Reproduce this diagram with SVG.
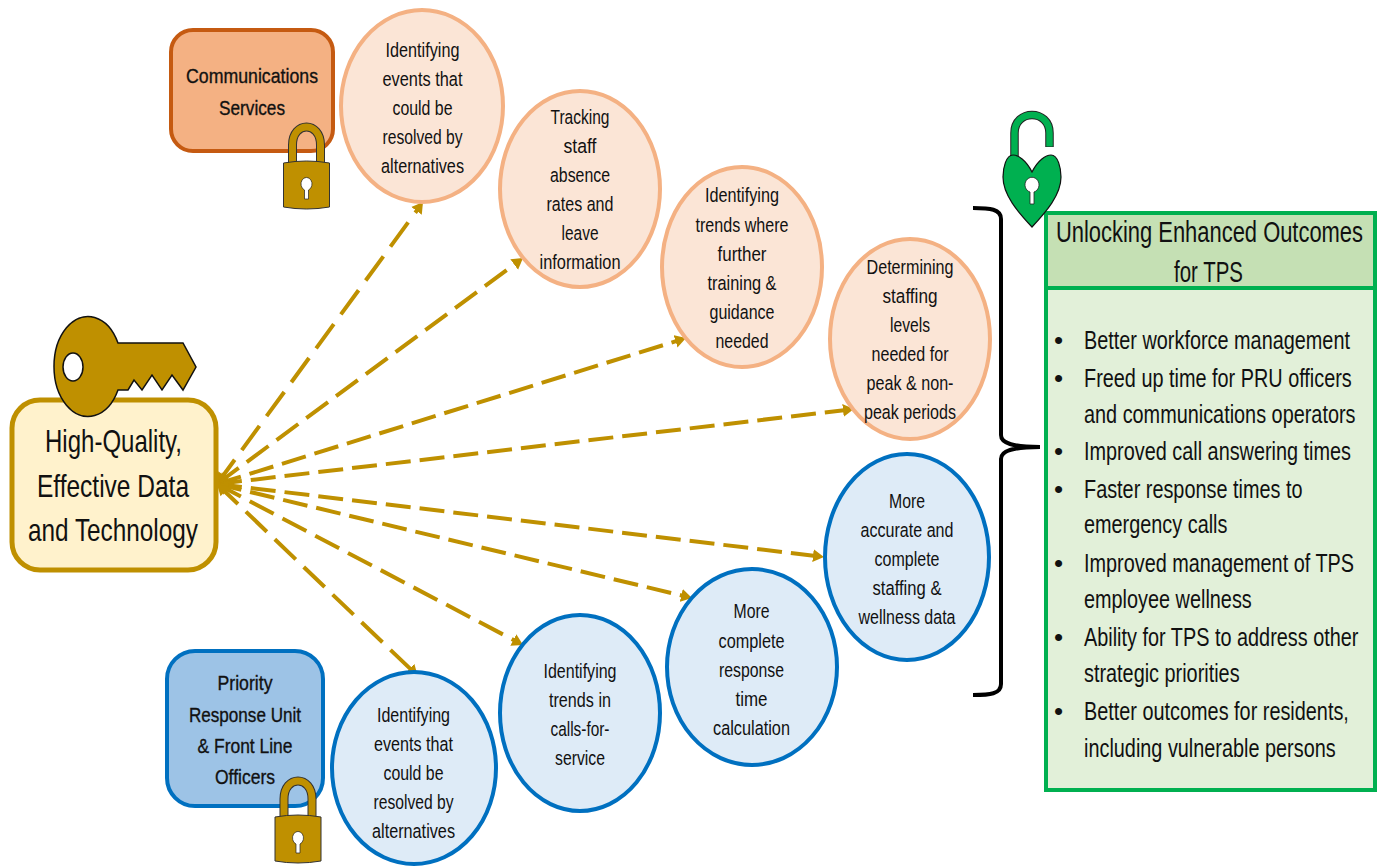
<svg xmlns="http://www.w3.org/2000/svg" width="1382" height="867" viewBox="0 0 1382 867">
<style>
text{font-family:"Liberation Sans",Arial,sans-serif;fill:#111;text-anchor:middle}
.c{font-size:20.5px}
.b{font-size:21px;stroke:#111;stroke-width:.35px}
.m{font-size:32px}
.h{font-size:30px}
.l{font-size:26px;text-anchor:start}
.o{fill:#FBE5D6;stroke:#F4B183;stroke-width:4}
.u{fill:#DEEBF7;stroke:#0070C0;stroke-width:4}
.a{fill:none;stroke:#BF9000;stroke-width:4;stroke-dasharray:25 9;marker-end:url(#ah);marker-start:url(#as)}
.d1{stroke-dasharray:30 12}
.d2{stroke-dasharray:27 10}
.d8{stroke-dasharray:29 11}
.g{fill:#BF9000;stroke:#111;stroke-width:1.5}
</style>
<defs>
<marker id="ah" markerUnits="userSpaceOnUse" markerWidth="13" markerHeight="14" refX="3" refY="7" orient="auto"><path d="M0 0.500L11 7L0 13.500z" fill="#BF9000"/></marker>
<marker id="as" markerUnits="userSpaceOnUse" markerWidth="13" markerHeight="14" refX="0" refY="7" orient="auto"><path d="M11 0.500L0 7L11 13.500z" fill="#BF9000"/></marker>
<g id="padlock"><path d="M-14 12V-12C-14-36 14-36 14-12V12" fill="none" stroke="#333" stroke-width="9"/><path d="M-14 12V-12C-14-36 14-36 14-12V12" fill="none" stroke="#BF9000" stroke-width="7"/><path d="M-23 6Q0 2 23 6V50Q0 54-23 50z" fill="#BF9000" stroke="#333" stroke-width="1"/><path d="M-2 33A5.500 6.500 0 1 1 2 33V42H-2z" fill="#fff" stroke="#222" stroke-width=".7"/></g>
</defs>
<g id="connectors">
<path class="a d1" d="M217 484L418.300 208.500"/>
<path class="a d2" d="M217 484L516.600 262.800"/>
<path class="a" d="M217 484L678.400 340.400"/>
<path class="a" d="M217 484L846 410"/>
<path class="a" d="M217 484L816 556"/>
<path class="a" d="M217 484L684.200 596.100"/>
<path class="a d2" d="M217 484L516 641.300"/>
<path class="a d8" d="M217 484L412 670.500"/>
</g>
<g id="bracket"><path d="M973 208C990 208 1001 209 1001 219V435C1001 443 1012 447 1040 447C1012 447 1001 451 1001 459V684C1001 694 990 695 973 695" fill="none" stroke="#000" stroke-width="4"/></g>
<g id="node-data"><rect x="12" y="400" width="204" height="170" rx="28" fill="#FFF2CC" stroke="#BF9000" stroke-width="5"/>
<text class="m" x="113.500" y="452" textLength="137" lengthAdjust="spacingAndGlyphs">High-Quality,</text><text class="m" x="113" y="497" textLength="152" lengthAdjust="spacingAndGlyphs">Effective Data</text><text class="m" x="113" y="541" textLength="170" lengthAdjust="spacingAndGlyphs">and Technology</text></g>
<g id="key"><path class="g" d="M118 343H183L196 367L183 390L172 375L162 390L152 375L142 390L134 380L128 390H118A34 50 0 1 1 118 343z"/><ellipse cx="73" cy="367" rx="10" ry="14" fill="#fff" stroke="#111" stroke-width="1.500"/></g>
<g id="node-comm"><rect x="171" y="30" width="162" height="121" rx="22" fill="#F4B183" stroke="#C55A11" stroke-width="4"/>
<text class="b" x="252" y="83" textLength="132" lengthAdjust="spacingAndGlyphs">Communications</text><text class="b" x="252" y="115" textLength="66" lengthAdjust="spacingAndGlyphs">Services</text></g>
<use id="lock-comm" href="#padlock" x="306.500" y="157"/>
<g id="node-pru"><rect x="167" y="651" width="156" height="155" rx="28" fill="#9DC3E6" stroke="#0070C0" stroke-width="4"/>
<text class="b" x="245" y="690" textLength="55" lengthAdjust="spacingAndGlyphs">Priority</text><text class="b" x="245" y="722" textLength="112" lengthAdjust="spacingAndGlyphs">Response Unit</text><text class="b" x="245" y="753" textLength="95" lengthAdjust="spacingAndGlyphs">&amp; Front Line</text><text class="b" x="245" y="784" textLength="60" lengthAdjust="spacingAndGlyphs">Officers</text></g>
<use id="lock-pru" href="#padlock" x="298" y="811"/>
<g id="n1"><ellipse class="o" cx="422" cy="106" rx="81" ry="96"/><text class="c" x="422.500" y="57" textLength="74" lengthAdjust="spacingAndGlyphs">Identifying</text><text class="c" x="422.500" y="86" textLength="80" lengthAdjust="spacingAndGlyphs">events that</text><text class="c" x="422.500" y="115" textLength="60" lengthAdjust="spacingAndGlyphs">could be</text><text class="c" x="422.500" y="144" textLength="80" lengthAdjust="spacingAndGlyphs">resolved by</text><text class="c" x="422.500" y="173" textLength="83" lengthAdjust="spacingAndGlyphs">alternatives</text></g>
<g id="n2"><ellipse class="o" cx="580" cy="189" rx="80" ry="98"/><text class="c" x="580" y="124" textLength="59" lengthAdjust="spacingAndGlyphs">Tracking</text><text class="c" x="580" y="153" textLength="33" lengthAdjust="spacingAndGlyphs">staff</text><text class="c" x="580" y="182" textLength="60" lengthAdjust="spacingAndGlyphs">absence</text><text class="c" x="580" y="211" textLength="67" lengthAdjust="spacingAndGlyphs">rates and</text><text class="c" x="580" y="240" textLength="37" lengthAdjust="spacingAndGlyphs">leave</text><text class="c" x="580" y="269" textLength="81" lengthAdjust="spacingAndGlyphs">information</text></g>
<g id="n3"><ellipse class="o" cx="742" cy="267" rx="80" ry="100"/><text class="c" x="742" y="202" textLength="74" lengthAdjust="spacingAndGlyphs">Identifying</text><text class="c" x="742" y="232" textLength="93" lengthAdjust="spacingAndGlyphs">trends where</text><text class="c" x="742" y="261" textLength="49" lengthAdjust="spacingAndGlyphs">further</text><text class="c" x="742" y="290" textLength="69" lengthAdjust="spacingAndGlyphs">training &amp;</text><text class="c" x="742" y="319" textLength="65" lengthAdjust="spacingAndGlyphs">guidance</text><text class="c" x="742" y="348" textLength="53" lengthAdjust="spacingAndGlyphs">needed</text></g>
<g id="n4"><ellipse class="o" cx="910" cy="339" rx="80" ry="100"/><text class="c" x="910" y="274" textLength="87" lengthAdjust="spacingAndGlyphs">Determining</text><text class="c" x="910" y="303" textLength="55" lengthAdjust="spacingAndGlyphs">staffing</text><text class="c" x="910" y="332" textLength="40" lengthAdjust="spacingAndGlyphs">levels</text><text class="c" x="910" y="361" textLength="77" lengthAdjust="spacingAndGlyphs">needed for</text><text class="c" x="910" y="390" textLength="87" lengthAdjust="spacingAndGlyphs">peak &amp; non-</text><text class="c" x="910" y="419" textLength="92" lengthAdjust="spacingAndGlyphs">peak periods</text></g>
<g id="n5"><ellipse class="u" cx="907" cy="557" rx="82" ry="103"/><text class="c" x="907" y="508" textLength="36" lengthAdjust="spacingAndGlyphs">More</text><text class="c" x="907" y="537" textLength="93" lengthAdjust="spacingAndGlyphs">accurate and</text><text class="c" x="907" y="566" textLength="65" lengthAdjust="spacingAndGlyphs">complete</text><text class="c" x="907" y="595" textLength="69" lengthAdjust="spacingAndGlyphs">staffing &amp;</text><text class="c" x="907" y="624" textLength="97" lengthAdjust="spacingAndGlyphs">wellness data</text></g>
<g id="n6"><ellipse class="u" cx="752" cy="667" rx="85" ry="98"/><text class="c" x="751.500" y="618" textLength="36" lengthAdjust="spacingAndGlyphs">More</text><text class="c" x="751.500" y="648" textLength="66" lengthAdjust="spacingAndGlyphs">complete</text><text class="c" x="751.500" y="677" textLength="65" lengthAdjust="spacingAndGlyphs">response</text><text class="c" x="751.500" y="706" textLength="32" lengthAdjust="spacingAndGlyphs">time</text><text class="c" x="751.500" y="735" textLength="77" lengthAdjust="spacingAndGlyphs">calculation</text></g>
<g id="n7"><ellipse class="u" cx="580" cy="713" rx="80" ry="98"/><text class="c" x="580" y="678" textLength="73" lengthAdjust="spacingAndGlyphs">Identifying</text><text class="c" x="580" y="707" textLength="62" lengthAdjust="spacingAndGlyphs">trends in</text><text class="c" x="580" y="736" textLength="59" lengthAdjust="spacingAndGlyphs">calls-for-</text><text class="c" x="580" y="765" textLength="50" lengthAdjust="spacingAndGlyphs">service</text></g>
<g id="n8"><ellipse class="u" cx="414" cy="768" rx="82" ry="96"/><text class="c" x="413.500" y="722" textLength="73" lengthAdjust="spacingAndGlyphs">Identifying</text><text class="c" x="413.500" y="751" textLength="79" lengthAdjust="spacingAndGlyphs">events that</text><text class="c" x="413.500" y="780" textLength="60" lengthAdjust="spacingAndGlyphs">could be</text><text class="c" x="413.500" y="809" textLength="80" lengthAdjust="spacingAndGlyphs">resolved by</text><text class="c" x="413.500" y="838" textLength="83" lengthAdjust="spacingAndGlyphs">alternatives</text></g>
<g id="node-outcomes"><rect x="1046" y="213" width="329" height="75" fill="#C5E0B4" stroke="#00B050" stroke-width="4"/><rect x="1046" y="288" width="329" height="502" fill="#E2F0D9" stroke="#00B050" stroke-width="4"/>
<text class="h" transform="translate(1209.500 242) scale(.731 1)">Unlocking Enhanced Outcomes</text><text class="h" x="1208.500" y="282" textLength="69" lengthAdjust="spacingAndGlyphs">for TPS</text>
<text class="l" x="1054" y="349">•</text><text class="l" x="1054" y="387">•</text><text class="l" x="1054" y="460">•</text><text class="l" x="1054" y="498">•</text><text class="l" x="1054" y="572">•</text><text class="l" x="1054" y="646">•</text><text class="l" x="1054" y="720">•</text>
<g transform="translate(1084 0) scale(.764 1)">
<text class="l" y="349">Better workforce management</text>
<text class="l" y="387">Freed up time for PRU officers</text><text class="l" y="423">and communications operators</text>
<text class="l" y="460">Improved call answering times</text>
<text class="l" y="498">Faster response times to</text><text class="l" y="533">emergency calls</text>
<text class="l" y="572">Improved management of TPS</text><text class="l" y="608">employee wellness</text>
<text class="l" y="646">Ability for TPS to address other</text><text class="l" y="682">strategic priorities</text>
<text class="l" y="720">Better outcomes for residents,</text><text class="l" y="757">including vulnerable persons</text>
</g></g>
<g id="heart-lock"><path d="M1014.500 165V133C1014.500 109 1049.500 109 1049.500 133V147" fill="none" stroke="#222" stroke-width="8.500"/><path d="M1014.500 165V133C1014.500 109 1049.500 109 1049.500 133V146.500" fill="none" stroke="#00B050" stroke-width="6.500"/><path d="M1032 172C1026 160 1018 155 1013 155C1006 155 1003 168 1003 177C1003 195 1018 212 1032 227C1046 212 1061 195 1061 177C1061 168 1058 155 1051 155C1046 155 1038 160 1032 172z" fill="#00B050" stroke="#111" stroke-width="1.200"/><path d="M1030 192A7 7.500 0 1 1 1034 192V204H1030z" fill="#fff" stroke="#222" stroke-width=".8"/></g>
</svg>
